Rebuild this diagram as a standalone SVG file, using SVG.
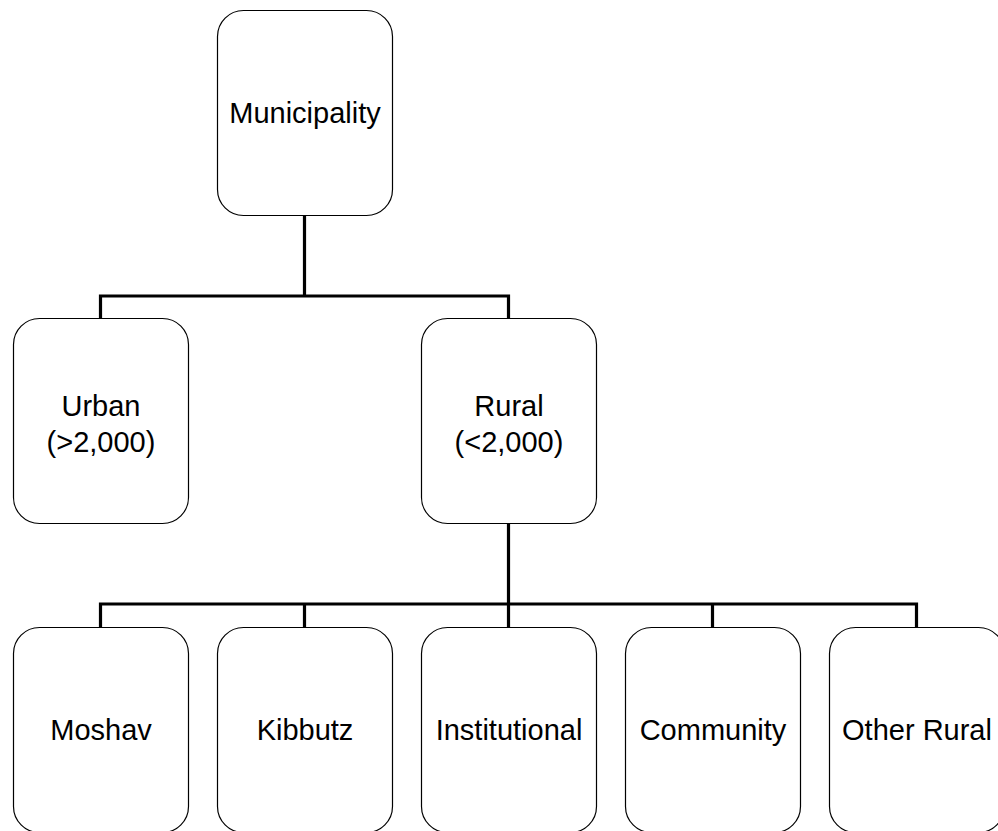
<svg xmlns="http://www.w3.org/2000/svg" width="998" height="831" viewBox="0 0 998 831">
<style>
.box{fill:#fff;stroke:#000;stroke-width:1.2}
.t{font-family:"Liberation Sans",Arial,sans-serif;font-size:29px;fill:#000;text-anchor:middle}
.c{fill:none;stroke:#000;stroke-width:3.2;stroke-linejoin:miter;stroke-linecap:square}
</style>
<rect width="998" height="831" fill="#fff"/>
<g id="connectors">
<path class="c" d="M304.5 216 V296 M100.5 318 V296 H508.5 V318"/>
<path class="c" d="M508.5 524 V627 M100.5 627 V604 H916.5 V627 M304.5 604 V627 M712.5 604 V627"/>
</g>
<g id="municipality"><rect class="box" x="217.5" y="10.5" width="175" height="205" rx="26"/><text class="t" x="305" y="123">Municipality</text></g>
<g id="urban"><rect class="box" x="13.5" y="318.5" width="175" height="205" rx="26"/><text class="t" x="101" y="416">Urban</text><text class="t" x="101" y="452">(&gt;2,000)</text></g>
<g id="rural"><rect class="box" x="421.5" y="318.5" width="175" height="205" rx="26"/><text class="t" x="509" y="416">Rural</text><text class="t" x="509" y="452">(&lt;2,000)</text></g>
<g id="moshav"><rect class="box" x="13.5" y="627.5" width="175" height="205" rx="26"/><text class="t" x="101" y="740">Moshav</text></g>
<g id="kibbutz"><rect class="box" x="217.5" y="627.5" width="175" height="205" rx="26"/><text class="t" x="305" y="740">Kibbutz</text></g>
<g id="institutional"><rect class="box" x="421.5" y="627.5" width="175" height="205" rx="26"/><text class="t" x="509" y="740">Institutional</text></g>
<g id="community"><rect class="box" x="625.5" y="627.5" width="175" height="205" rx="26"/><text class="t" x="713" y="740">Community</text></g>
<g id="other-rural"><rect class="box" x="829.5" y="627.5" width="175" height="205" rx="26"/><text class="t" x="917" y="740">Other Rural</text></g>
</svg>
